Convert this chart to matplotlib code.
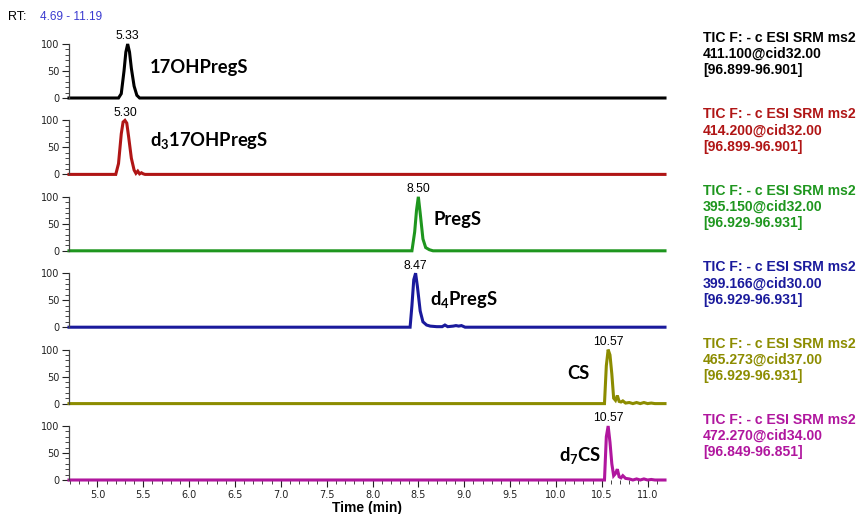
import matplotlib
matplotlib.use("Agg")
import matplotlib.pyplot as plt
from matplotlib.ticker import MultipleLocator, FormatStrFormatter

# subscripts in the compound names use the same bold face
plt.rcParams["mathtext.fontset"] = "custom"
plt.rcParams["mathtext.rm"] = "Lato:bold"
plt.rcParams["mathtext.it"] = "Lato:bold"
plt.rcParams["mathtext.bf"] = "Lato:bold"

# time window
t_min, t_max = 4.69, 11.19

# chromatogram traces (time in min, relative abundance)
t_17oh = [4.69, 5.23, 5.26, 5.29, 5.31, 5.33, 5.35, 5.37, 5.40, 5.43, 5.46, 11.19]
y_17oh = [0, 0, 8, 50, 85, 100, 85, 55, 22, 5, 0, 0]

t_d3 = [4.69, 5.20, 5.23, 5.26, 5.28, 5.30, 5.32, 5.34, 5.37, 5.40, 5.42, 5.44, 5.46, 5.48, 5.50, 5.52, 11.19]
y_d3 = [0, 0, 20, 75, 97, 100, 95, 70, 30, 8, 2, 6, 1, 3, 1, 0, 0]

t_preg = [4.69, 8.43, 8.46, 8.48, 8.50, 8.52, 8.55, 8.58, 8.62, 8.66, 11.19]
y_preg = [0, 0, 35, 75, 100, 70, 22, 6, 2, 0, 0]

t_d4 = [4.69, 8.41, 8.43, 8.45, 8.47, 8.49, 8.52, 8.55, 8.59, 8.63, 8.70, 8.76, 8.79, 8.82, 8.88, 8.91, 8.94, 8.97, 9.01, 11.19]
y_d4 = [0, 0, 40, 88, 100, 75, 30, 10, 4, 2, 1, 1, 4, 1, 2, 3, 2, 3, 0, 0]

t_cs = [4.69, 10.53, 10.55, 10.57, 10.59, 10.61, 10.63, 10.65, 10.67, 10.69, 10.71, 10.73, 10.76, 10.80, 10.84, 10.88, 10.92, 10.96, 11.00, 11.04, 11.08, 11.19]
y_cs = [0, 0, 70, 100, 90, 55, 10, 6, 15, 4, 3, 5, 1, 2, 0, 2, 0, 2, 0, 1, 0, 0]

t_d7 = [4.69, 10.53, 10.55, 10.57, 10.59, 10.61, 10.63, 10.65, 10.67, 10.69, 10.71, 10.73, 10.76, 10.80, 10.84, 10.88, 10.92, 10.96, 11.00, 11.04, 11.08, 11.19]
y_d7 = [0, 0, 80, 100, 70, 30, 8, 12, 20, 6, 4, 8, 3, 2, 0, 2, 0, 2, 0, 1, 0, 0]

traces = [(t_17oh, y_17oh), (t_d3, y_d3), (t_preg, y_preg),
          (t_d4, y_d4), (t_cs, y_cs), (t_d7, y_d7)]
peak_rt = [5.33, 5.30, 8.50, 8.47, 10.57, 10.57]
peak_labels = ["5.33", "5.30", "8.50", "8.47", "10.57", "10.57"]
names = ["17OHPregS", r"d$_3$17OHPregS", "PregS", r"d$_4$PregS", "CS", r"d$_7$CS"]
# label anchor (x, y, horizontal alignment)
name_pos = [(5.57, 57, "left"), (5.57, 62, "left"), (8.67, 58, "left"),
            (8.63, 52, "left"), (10.37, 55, "right"), (10.49, 45, "right")]
colors = ["#000000", "#b01515", "#1e961e", "#1a1a9c", "#8c8c00", "#b0169e"]
ions = ["411.100@cid32.00", "414.200@cid32.00", "395.150@cid32.00",
        "399.166@cid30.00", "465.273@cid37.00", "472.270@cid34.00"]
ranges = ["[96.899-96.901]", "[96.899-96.901]", "[96.929-96.931]",
          "[96.929-96.931]", "[96.929-96.931]", "[96.849-96.851]"]

W, H = 860, 514
fig = plt.figure(figsize=(W / 100, H / 100), dpi=100)

left, right = 69, 665
zero0, step, ht = 98, 76.4, 54

for i, ((t, y), c) in enumerate(zip(traces, colors)):
    y0 = zero0 + i * step
    ax = fig.add_axes([left / W, 1 - y0 / H, (right - left) / W, ht / H])
    ax.plot(t, y, color=c, lw=2.2, clip_on=False, solid_joinstyle="miter")
    ax.set_xlim(t_min, t_max)
    ax.set_ylim(0, 100)
    for s in ["top", "right", "bottom"]:
        ax.spines[s].set_visible(False)
    ax.spines["left"].set_color("#444444")
    ax.spines["left"].set_linewidth(0.9)
    ax.set_yticks([0, 50, 100])
    ax.yaxis.set_minor_locator(MultipleLocator(10))
    ax.tick_params(axis="y", which="major", length=5, width=0.8, labelsize=7,
                   pad=2, colors="#222222")
    ax.tick_params(axis="y", which="minor", length=3, width=0.7, colors="#444444")
    ax.text(peak_rt[i], 103, peak_labels[i], ha="center", va="bottom",
            fontsize=8.8, family="Liberation Sans")
    nx, ny, nha = name_pos[i]
    ax.text(nx, ny, names[i], ha=nha, va="center", fontsize=13.2,
            fontweight="bold", family="Lato")
    if i < 5:
        ax.set_xticks([])
    else:
        ax.xaxis.set_major_locator(MultipleLocator(0.5))
        ax.xaxis.set_minor_locator(MultipleLocator(0.1))
        ax.xaxis.set_major_formatter(FormatStrFormatter("%.1f"))
        ax.tick_params(axis="x", which="major", length=5, width=0.8, labelsize=7,
                       pad=2, colors="#222222")
        ax.tick_params(axis="x", which="minor", length=3, width=0.7, colors="#444444")
        ax.set_xlabel("Time (min)", fontsize=10, fontweight="bold",
                      family="Liberation Sans", labelpad=1)
    # right-hand scan description
    ty = 1 - (y0 - 67) / H
    fig.text(703 / W, ty, "TIC F: - c ESI SRM ms2\n" + ions[i] + "\n" + ranges[i],
             color=c, fontsize=10.1, fontweight="bold", family="Liberation Sans",
             va="top", ha="left", linespacing=1.2)

fig.text(8 / W, 1 - 17 / H, "RT:", fontsize=9, family="Liberation Sans", va="center")
fig.text(40 / W, 1 - 17 / H, "4.69 - 11.19", fontsize=8.5, family="Liberation Sans",
         color="#3a3ad0", va="center")

fig.savefig("out.png", dpi=100)
